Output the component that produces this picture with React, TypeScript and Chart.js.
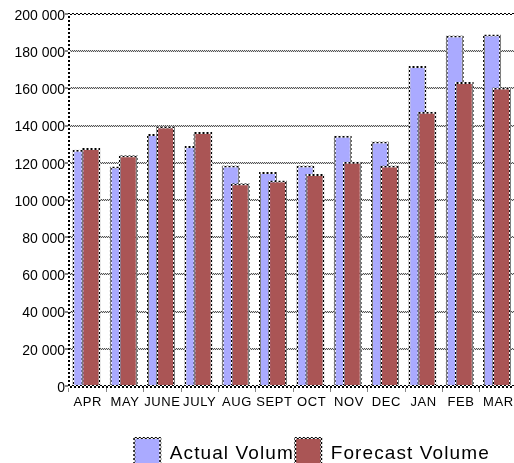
import React, { useEffect, useRef } from 'react';
import { Chart, registerables } from 'chart.js';

Chart.register(...registerables);

const categories = ['APR', 'MAY', 'JUNE', 'JULY', 'AUG', 'SEPT', 'OCT', 'NOV', 'DEC', 'JAN', 'FEB', 'MAR'];
const actualVolume = [127000, 118000, 135500, 129000, 118500, 115000, 118500, 134500, 131500, 172000, 188500, 189000];
const forecastVolume = [128000, 124000, 139500, 136500, 109000, 110500, 114000, 120500, 118500, 147500, 163500, 160500];
const seriesNames = ['Actual Volume', 'Forecast Volume'];
const yMin = 0;
const yMax = 200000;
const yStep = 20000;

const FONT = "'Liberation Sans', Arial, sans-serif";

function makePattern(a: string, b: string, cell: number) {
  const c = document.createElement('canvas');
  c.width = cell * 2;
  c.height = cell * 2;
  const x = c.getContext('2d')!;
  x.fillStyle = b;
  x.fillRect(0, 0, cell * 2, cell * 2);
  x.fillStyle = a;
  x.fillRect(0, 0, cell, cell);
  x.fillRect(cell, cell, cell, cell);
  return x.createPattern(c, 'repeat')!;
}

function fmt(v: number) {
  return String(v).replace(/\B(?=(\d{3})+(?!\d))/g, ' ');
}

// run fn with letter-spaced fillText (measurement stays unspaced, like the original renderer)
function withSpacedText(ctx: any, spacing: string, fn: () => void) {
  const proto = Object.getPrototypeOf(ctx);
  const origFill = proto.fillText;
  ctx.fillText = function (t: string, x: number, y: number, mw?: number) {
    const prev = this.letterSpacing;
    try { this.letterSpacing = spacing; } catch (e) {}
    if (mw === undefined) origFill.call(this, t, x, y);
    else origFill.call(this, t, x, y, mw);
    try { this.letterSpacing = prev; } catch (e) {}
  };
  try {
    fn();
  } finally {
    delete ctx.fillText;
  }
}

const reorderPlugin = {
  id: 'reorder',
  beforeDatasetsDraw(chart: any) {
    chart.ctx.save();
    chart.ctx.translate(-1.5, 0);
    chart.getDatasetMeta(0).controller.draw();
  },
  beforeDatasetDraw(chart: any, args: any) {
    if (args.index === 0) return false;
  },
  afterDatasetsDraw(chart: any) {
    chart.ctx.restore();
  },
};

const textStylePlugin = {
  id: 'textStyle',
  afterLayout(chart: any) {
    const lg = chart.legend;
    if (lg && !lg.__wrapped) {
      const orig = lg.draw.bind(lg);
      lg.draw = (...a: any[]) => {
        const ctx = chart.ctx;
        ctx.save();
        ctx.translate(10.8, 0);
        withSpacedText(ctx, '1.1px', () => orig(...a));
        ctx.restore();
      };
      lg.__wrapped = true;
    }
    const xs = chart.scales.x;
    if (xs && !xs.__wrapped) {
      const origL = xs.drawLabels.bind(xs);
      xs.drawLabels = (...a: any[]) => {
        withSpacedText(chart.ctx, '0.6px', () => origL(...a));
      };
      xs.__wrapped = true;
    }
  },
};

export default function App() {
  const ref = useRef<HTMLCanvasElement>(null);
  useEffect(() => {
    const blackDots = makePattern('#000000', '#ffffff', 2);
    const grayDots = makePattern('#555555', '#e0e0e0', 1);
    const chart = new Chart(ref.current!, {
      type: 'bar',
      data: {
        labels: categories,
        datasets: [
          {
            label: seriesNames[0],
            data: actualVolume,
            backgroundColor: '#AAAAFF',
            borderColor: blackDots,
            borderWidth: 2,
            categoryPercentage: 0.509,
            barPercentage: 1.9,
          },
          {
            label: seriesNames[1],
            data: forecastVolume,
            backgroundColor: '#AA5555',
            borderColor: blackDots,
            borderWidth: 2,
            categoryPercentage: 0.509,
            barPercentage: 2.0,
          },
        ],
      },
      options: {
        responsive: false,
        devicePixelRatio: 1,
        animation: false,
        events: [],
        layout: { padding: { top: 14, right: 7, left: 0, bottom: 0 } },
        plugins: {
          tooltip: { enabled: false },
          legend: {
            position: 'bottom',
            fullSize: false,
            labels: {
              boxWidth: 26,
              boxHeight: 32,
              padding: 4,
              color: '#000',
              font: { size: 19, family: FONT },
            },
          },
        },
        scales: {
          x: {
            afterFit: (s: any) => { s.height = 48; },
            grid: {
              display: true,
              drawOnChartArea: false,
              drawTicks: true,
              tickLength: 6,
              color: '#888',
              lineWidth: 1,
              offset: true,
            },
            border: { display: true, color: blackDots as any, width: 3 },
            ticks: {
              autoSkip: false,
              maxRotation: 0,
              minRotation: 0,
              padding: 3,
              color: '#000',
              font: { size: 13, family: FONT },
            },
          },
          y: {
            min: yMin,
            max: yMax,
            afterFit: (s: any) => { s.width = 69; },
            grid: {
              color: (c: any) => (c.tick && c.tick.value === yMax ? blackDots : grayDots) as any,
              lineWidth: 2,
              tickLength: 4,
              tickColor: '#888',
            },
            border: { display: true, color: blackDots as any, width: 2 },
            ticks: {
              stepSize: yStep,
              padding: 0,
              labelOffset: 2,
              color: '#000',
              font: { size: 14, family: FONT },
              callback: (v: any) => fmt(Number(v)),
            },
          },
        },
      },
      plugins: [reorderPlugin, textStylePlugin],
    });
    return () => chart.destroy();
  }, []);
  return (
    <div style={{ position: 'fixed', left: 0, top: 0, width: 514, height: 463, overflow: 'hidden', background: '#fff' }}>
      <canvas ref={ref} width={524} height={480} style={{ display: 'block', width: 524, height: 480 }} />
    </div>
  );
}
